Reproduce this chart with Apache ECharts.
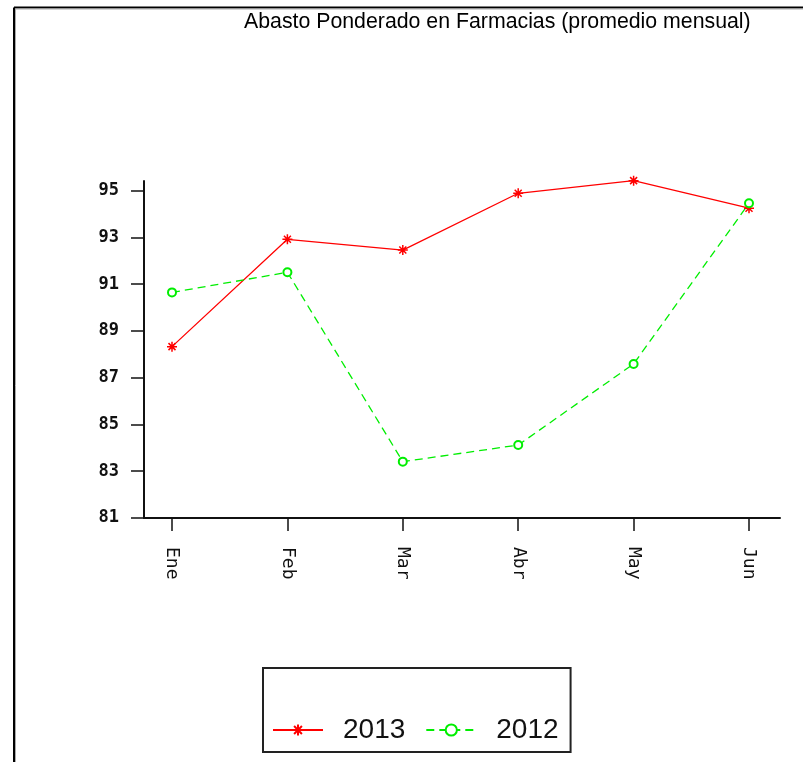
<!DOCTYPE html>
<html>
<head>
<meta charset="utf-8">
<script src="https://cdn.jsdelivr.net/npm/echarts@6/dist/echarts.min.js"></script>
<style>
html,body{margin:0;padding:0;background:#fff;}
#chart{width:803px;height:762px;}
</style>
</head>
<body>
<div id="chart"></div>
<script>
const titleText = 'Abasto Ponderado en Farmacias (promedio mensual)';
const months = ['Ene', 'Feb', 'Mar', 'Abr', 'May', 'Jun'];
const seriesNames = ['2013', '2012'];
const values2013 = [88.33, 92.92, 92.46, 94.89, 95.43, 94.25];
const values2012 = [90.65, 91.51, 83.41, 84.12, 87.59, 94.46];
const yMin = 81, yMax = 95, yStep = 2;

const chart = echarts.init(document.getElementById('chart'), null, {renderer: 'canvas'});
const asterisk = 'path://M0,-5L0,5M-5,0L5,0M-3.5,-3.5L3.5,3.5M-3.5,3.5L3.5,-3.5';
const labelFont = 'DejaVu Sans Mono';

chart.setOption({
  backgroundColor: '#fff',
  animation: false,
  title: {
    text: titleText, left: 244, top: 12, padding: 0,
    textStyle: {fontFamily: 'Liberation Sans', fontSize: 21.3, fontWeight: 'normal', color: '#000'}
  },
  graphic: [
    {type: 'line', shape: {x1: 14, y1: 7.5, x2: 803, y2: 7.5}, style: {stroke: '#000', lineWidth: 2}},
    {type: 'line', shape: {x1: 14, y1: 7.5, x2: 14, y2: 762}, style: {stroke: '#000', lineWidth: 2}},
    {type: 'line', shape: {x1: 15.5, y1: 9, x2: 803, y2: 9}, style: {stroke: '#aaa', lineWidth: 1}},
    {type: 'line', shape: {x1: 15.5, y1: 9, x2: 15.5, y2: 762}, style: {stroke: '#aaa', lineWidth: 1}}
  ],
  legend: {
    data: seriesNames,
    left: 263, top: 668, orient: 'horizontal',
    padding: [48, 12, 8, 9],
    itemWidth: 50, itemHeight: 14, itemGap: 20,
    borderColor: '#222', borderWidth: 2,
    textStyle: {fontFamily: 'Liberation Sans', fontSize: 28, color: '#111', padding: [0, 0, 0, 15]}
  },
  grid: [
    {left: 144, right: 23, top: 181, bottom: 244, containLabel: false},
    {left: 172, right: 54, top: 190.7, bottom: 244, containLabel: false}
  ],
  xAxis: [
    {gridIndex: 0, type: 'value', min: 0, max: 1,
     axisLine: {show: true, lineStyle: {color: '#111', width: 2}},
     axisTick: {show: false}, axisLabel: {show: false}, splitLine: {show: false}},
    {gridIndex: 1, type: 'category', data: months, boundaryGap: false,
     axisLine: {show: false},
     axisTick: {show: true, length: 13, lineStyle: {color: '#111', width: 1.5}},
     axisLabel: {rotate: -90, margin: 29, fontFamily: labelFont, fontSize: 18, color: '#111'},
     splitLine: {show: false}}
  ],
  yAxis: [
    {gridIndex: 0, type: 'value', min: 0, max: 1,
     axisLine: {show: true, lineStyle: {color: '#111', width: 2}},
     axisTick: {show: false}, axisLabel: {show: false}, splitLine: {show: false}},
    {gridIndex: 1, type: 'value', min: yMin, max: yMax, interval: yStep, offset: 28,
     axisLine: {show: false},
     axisTick: {show: true, length: 13, lineStyle: {color: '#111', width: 1.5}},
     axisLabel: {margin: 25, fontFamily: labelFont, fontSize: 17, fontWeight: 'bold', color: '#111'},
     splitLine: {show: false}}
  ],
  series: [
    {name: seriesNames[0], type: 'line', xAxisIndex: 1, yAxisIndex: 1, data: values2013,
     clip: false, symbol: asterisk, symbolSize: 10,
     lineStyle: {color: '#ff0000', width: 1.3},
     itemStyle: {color: '#ff0000', borderColor: '#ff0000', borderWidth: 1.5}},
    {name: seriesNames[1], type: 'line', xAxisIndex: 1, yAxisIndex: 1, data: values2012,
     clip: false, symbol: 'emptyCircle', symbolSize: 8,
     lineStyle: {color: '#00ee00', width: 1.3, type: [8, 5]},
     itemStyle: {color: '#00ee00', borderColor: '#00ee00', borderWidth: 1.5}}
  ]
});
</script>
</body>
</html>
